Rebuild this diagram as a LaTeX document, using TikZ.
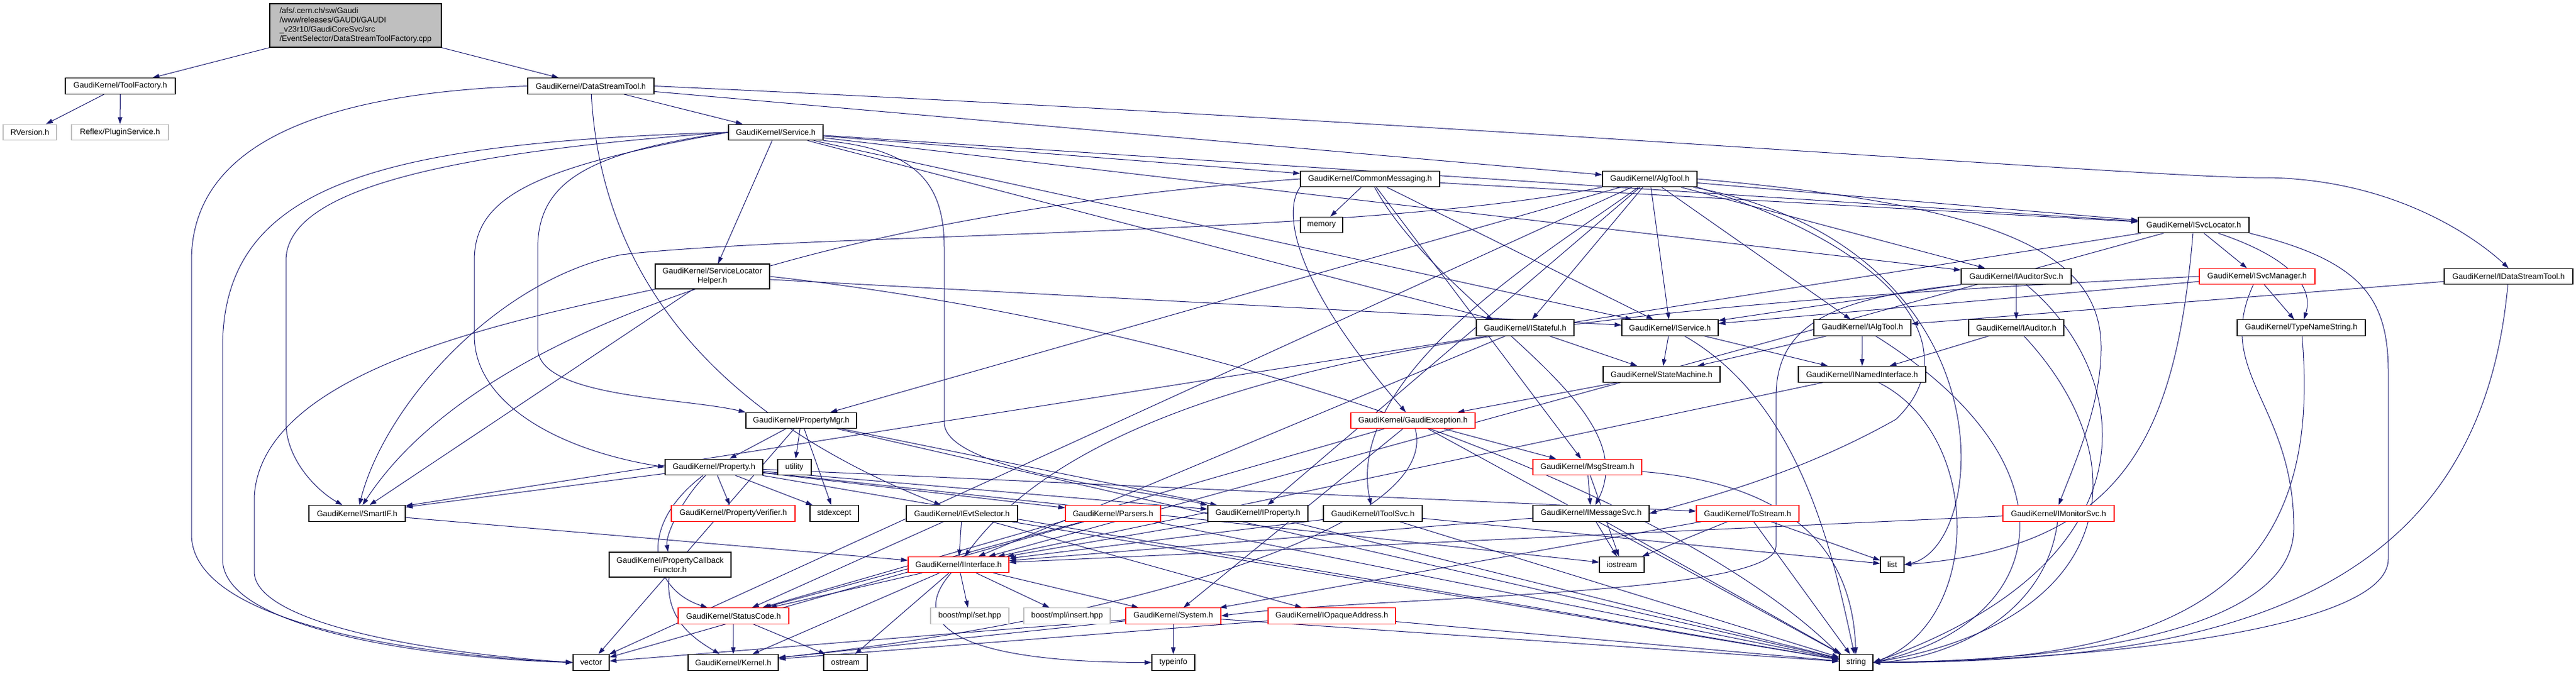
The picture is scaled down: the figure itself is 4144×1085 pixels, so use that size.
\documentclass[tikz,border=0pt]{standalone}
\usepackage{fontspec}
\setmainfont{Liberation Sans}
\usetikzlibrary{arrows.meta}
\definecolor{edgec}{HTML}{191970}
\definecolor{nodocc}{HTML}{BFBFBF}
\pgfdeclarelayer{bg}
\pgfsetlayers{bg,main}
\tikzset{
 nd/.style={draw=black, fill=white, line width=0.6pt, inner sep=0pt, minimum height=12.75pt, font=\fontsize{6.4}{7.5}\selectfont, align=center},
 wd/.style={minimum width=#1*0.5pt},
 trunc/.style={draw=red},
 nodoc/.style={draw=nodocc},
 e/.style={draw=edgec, line width=0.5pt, -{Triangle[length=5.5pt,width=3.6pt]}},
}
\begin{document}
\begin{tikzpicture}[x=0.5pt,y=-0.5pt]
\useasboundingbox (0,0) rectangle (4144,1085);
% nodes
\node[nd,wd=276,minimum height=35pt,fill=nodocc,align=left] (top) at (572,41) {/afs/.cern.ch/sw/Gaudi\\/www/releases/GAUDI/GAUDI\\\_v23r10/GaudiCoreSvc/src\\/EventSelector/DataStreamToolFactory.cpp};
\node[nd,wd=177] (tf) at (193.5,138.5) {GaudiKernel/ToolFactory.h};
\node[nd,nodoc,wd=86] (rv) at (48,213) {RVersion.h};
\node[nd,nodoc,wd=156] (ps) at (193,213) {Reflex/PluginService.h};
\node[nd,wd=203] (dst) at (950.5,138.5) {GaudiKernel/DataStreamTool.h};
\node[nd,wd=152] (svc) at (1248,213) {GaudiKernel/Service.h};
\node[nd,wd=184,minimum height=20pt] (slh) at (1146,445) {GaudiKernel/ServiceLocator\\Helper.h};
\node[nd,wd=224] (cm) at (2204,288) {GaudiKernel/CommonMessaging.h};
\node[nd,wd=68] (mem) at (2126,362) {memory};
\node[nd,wd=152] (at) at (2654,288) {GaudiKernel/AlgTool.h};
\node[nd,wd=178] (isl) at (3529,362) {GaudiKernel/ISvcLocator.h};
\node[nd,wd=177] (ias) at (3243.5,445) {GaudiKernel/IAuditorSvc.h};
\node[nd,trunc,wd=186] (ism) at (3631,445) {GaudiKernel/ISvcManager.h};
\node[nd,wd=207] (idst) at (4035.5,445) {GaudiKernel/IDataStreamTool.h};
\node[nd,wd=157] (ist) at (2453.5,527.5) {GaudiKernel/IStateful.h};
\node[nd,wd=155] (isv) at (2686.5,527.5) {GaudiKernel/IService.h};
\node[nd,wd=156] (iat) at (2996,527.5) {GaudiKernel/IAlgTool.h};
\node[nd,wd=153] (iau) at (3243.5,527.5) {GaudiKernel/IAuditor.h};
\node[nd,wd=206] (tns) at (3702,527.5) {GaudiKernel/TypeNameString.h};
\node[nd,wd=188] (sm) at (2673,602.5) {GaudiKernel/StateMachine.h};
\node[nd,wd=205] (ini) at (2995.5,602.5) {GaudiKernel/INamedInterface.h};
\node[nd,wd=178] (pm) at (1289,677) {GaudiKernel/PropertyMgr.h};
\node[nd,trunc,wd=200] (ge) at (2273,677) {GaudiKernel/GaudiException.h};
\node[nd,wd=157] (pr) at (1148.5,752) {GaudiKernel/Property.h};
\node[nd,wd=54] (ut) at (1278,752) {utility};
\node[nd,trunc,wd=175] (ms) at (2553.5,752) {GaudiKernel/MsgStream.h};
\node[nd,trunc,wd=199] (pv) at (1179.5,826.5) {GaudiKernel/PropertyVerifier.h};
\node[nd,wd=78] (se) at (1342,826.5) {stdexcept};
\node[nd,wd=179] (ies) at (1547.5,826.5) {GaudiKernel/IEvtSelector.h};
\node[nd,trunc,wd=153] (pa) at (1790.5,826.5) {GaudiKernel/Parsers.h};
\node[nd,wd=161] (ip) at (2023.5,826.5) {GaudiKernel/IProperty.h};
\node[nd,wd=159] (its) at (2208.5,826.5) {GaudiKernel/IToolSvc.h};
\node[nd,wd=187] (ims) at (2559.5,826.5) {GaudiKernel/IMessageSvc.h};
\node[nd,trunc,wd=165] (ts) at (2811.5,826.5) {GaudiKernel/ToStream.h};
\node[nd,trunc,wd=179] (imon) at (3311.5,826.5) {GaudiKernel/IMonitorSvc.h};
\node[nd,wd=155] (sif) at (574.5,826.5) {GaudiKernel/SmartIF.h};
\node[nd,wd=196,minimum height=20pt] (pcf) at (1078,909) {GaudiKernel/PropertyCallback\\Functor.h};
\node[nd,trunc,wd=162] (ii) at (1542,909) {GaudiKernel/IInterface.h};
\node[nd,wd=72] (ios) at (2609,909) {iostream};
\node[nd,wd=38] (lst) at (3044,909) {list};
\node[nd,trunc,wd=178] (sc) at (1180,991.5) {GaudiKernel/StatusCode.h};
\node[nd,nodoc,wd=126] (bset) at (1560,991.5) {boost/mpl/set.hpp};
\node[nd,nodoc,wd=139] (bins) at (1716.5,991.5) {boost/mpl/insert.hpp};
\node[nd,trunc,wd=153] (sys) at (1887.5,991.5) {GaudiKernel/System.h};
\node[nd,trunc,wd=205] (ioa) at (2142.5,991.5) {GaudiKernel/IOpaqueAddress.h};
\node[nd,wd=145] (ker) at (1179.5,1066.5) {GaudiKernel/Kernel.h};
\node[nd,wd=70] (ost) at (1360,1066.5) {ostream};
\node[nd,wd=69] (ti) at (1887.5,1066.5) {typeinfo};
\node[nd,wd=58] (vec) at (951,1066.5) {vector};
\node[nd,wd=54] (str) at (2986,1066.5) {string};
% edges
\begin{pgfonlayer}{bg}
\draw[e] (top) -- (tf);
\draw[e] (top) -- (dst);
\draw[e] (tf) -- (rv);
\draw[e] (tf) -- (ps);
% DataStreamTool
\draw[e] (dst.west) .. controls (520,150) and (308,230) .. (308,420) -- (308,860) .. controls (308,1010) and (700,1056) .. (vec.west);
\draw[e] (dst) .. controls (965,400) and (1100,650) .. (ies);
\draw[e] (dst) -- (svc);
\draw[e] (dst) -- (at);
\draw[e] (dst.east) .. controls (2400,200) and (3500,290) .. (3650,286) .. controls (3850,290) and (3980,380) .. (idst.north);
% Service
\draw[e] (svc) -- (isv);
\draw[e] (svc) -- (isl);
\draw[e] (svc) -- (slh);
\draw[e] (svc.south east) .. controls (1480,240) and (1519,300) .. (1519,400) -- (1519,680) .. controls (1519,760) and (1850,790) .. (ip.north west);
\draw[e] (svc.west) .. controls (950,245) and (865,290) .. (865,400) -- (865,560) .. controls (865,640) and (1100,640) .. (pm.north west);
\draw[e] (svc.west) .. controls (850,270) and (763,320) .. (763,420) -- (763,540) .. controls (763,650) and (900,725) .. (pr.west);
\draw[e] (svc) -- (ias);
\draw[e] (svc) -- (cm);
\draw[e] (svc.west) .. controls (650,250) and (460,320) .. (460,420) -- (460,680) .. controls (460,740) and (510,790) .. (sif);
\draw[e] (svc) -- (ist);
\draw[e] (svc.west) .. controls (600,230) and (358,300) .. (358,560) -- (358,900) .. controls (358,1015) and (700,1060) .. (vec.west);
% ServiceLocatorHelper
\draw[e] (slh) -- (isv);
\draw[e] (slh.east) .. controls (2000,530) and (2700,800) .. (str.north west);
\draw[e] (slh) -- (sif);
\draw[e] (slh.south west) .. controls (800,520) and (420,600) .. (409,800) -- (409,920) .. controls (409,1005) and (700,1052) .. (vec.west);
% CommonMessaging
\draw[e] (cm) -- (mem);
\draw[e] (cm.south west) .. controls (2070,330) and (2060,430) .. (ge);
\draw[e] (cm) -- (ms);
\draw[e] (cm) .. controls (2320,500) and (2650,650) .. (ims);
\draw[e] (cm) -- (isv);
\draw[e] (cm) -- (isl);
\draw[e] (cm.west) .. controls (1500,330) and (800,480) .. (sif);
% AlgTool
\draw[e] (at) -- (iat);
\draw[e] (at) -- (ist);
\draw[e] (at) -- (isv);
\draw[e] (at) -- (isl);
\draw[e] (at) -- (ias);
\draw[e] (at.east) .. controls (3200,330) and (3380,400) .. (3380,560) .. controls (3380,650) and (3340,740) .. (imon.north);
\draw[e] (at) .. controls (3240,400) and (3200,880) .. (lst.east);
\draw[e] (at) .. controls (2500,400) and (2160,600) .. (its);
\draw[e] (at.south east) .. controls (3050,400) and (3170,560) .. (3050,675) .. controls (2900,760) and (2750,800) .. (ims.east);
\draw[e] (at) -- (pm);
\draw[e] (at) -- (ip);
\draw[e] (at.south west) .. controls (2200,380) and (1300,375) .. (1000,410) .. controls (800,450) and (620,650) .. (sif);
\draw[e] (at) -- (vec);
% ISvcLocator
\draw[e] (isl) -- (ism);
\draw[e] (isl) .. controls (3700,420) and (3720,470) .. (tns);
\draw[e] (isl) .. controls (3500,700) and (3420,880) .. (lst.east);
\draw[e] (isl.south east) .. controls (3800,420) and (3842,480) .. (3842,600) -- (3842,900) .. controls (3842,1010) and (3400,1062) .. (str.east);
\draw[e] (isl) -- (sif);
\draw[e] (isl) -- (ii);
% IAuditorSvc
\draw[e] (ias) -- (isv);
\draw[e] (ias) -- (iau);
\draw[e] (ias) .. controls (3430,600) and (3480,900) .. (str.east);
\draw[e] (ias.south west) .. controls (2950,480) and (2857,520) .. (2857,640) -- (2857,880) .. controls (2857,960) and (2200,960) .. (sys.east);
% ISvcManager
\draw[e] (ism) -- (isv);
\draw[e] (ism) -- (tns);
\draw[e] (ism) .. controls (3560,600) and (3690,650) .. (3690,850) .. controls (3690,1000) and (3400,1062) .. (str.east);
\draw[e] (ism.west) .. controls (2600,490) and (1800,560) .. (ii);
% IDataStreamTool
\draw[e] (idst) -- (iat);
\draw[e] (idst) .. controls (3990,950) and (3600,1066) .. (str.east);
% IStateful, IService, IAlgTool, IAuditor, TypeNameString
\draw[e] (ist) -- (sm);
\draw[e] (ist) -- (ii);
\draw[e] (isv) -- (sm);
\draw[e] (isv) -- (ini);
\draw[e] (isv) .. controls (2900,650) and (2950,900) .. (str);
\draw[e] (iat) -- (ini);
\draw[e] (iat) -- (sm);
\draw[e] (iat) .. controls (3350,750) and (3300,1000) .. (str.east);
\draw[e] (iau) -- (ini);
\draw[e] (iau) .. controls (3450,750) and (3400,1000) .. (str.east);
\draw[e] (tns) .. controls (3740,950) and (3500,1066) .. (str.east);
% StateMachine, INamedInterface
\draw[e] (sm) -- (ge);
\draw[e] (ini) -- (ii);
\draw[e] (ini) .. controls (3190,700) and (3190,1000) .. (str.east);
% PropertyMgr
\draw[e] (pm) -- (pr);
\draw[e] (pm) -- (ut);
\draw[e] (pm) -- (se);
\draw[e] (pm) -- (ip);
\draw[e] (pm) -- (vec);
\draw[e] (pm) -- (str);
% GaudiException
\draw[e] (ge) -- (ms);
\draw[e] (ge) -- (sc);
\draw[e] (ge) .. controls (2320,850) and (1800,1000) .. (ker);
\draw[e] (ge) -- (sys);
\draw[e] (ge) -- (str);
% Property
\draw[e] (pr) .. controls (1100,800) and (1070,860) .. (pcf);
\draw[e] (pr) -- (pv);
\draw[e] (pr) -- (se);
\draw[e] (pr) -- (pa);
\draw[e] (pr) -- (ip);
\draw[e] (pr) -- (ts);
\draw[e] (pr) -- (sif);
\draw[e] (pr) .. controls (1020,850) and (1050,950) .. (sc);
\draw[e] (pr) -- (str);
\draw[e] (pr) -- (ios);
% MsgStream
\draw[e] (ms) -- (ims);
\draw[e] (ms) .. controls (2900,780) and (2980,900) .. (str);
\draw[e] (ms) -- (ios);
% IEvtSelector
\draw[e] (ies) -- (ii);
\draw[e] (ies) -- (sc);
\draw[e] (ies) -- (ioa);
\draw[e] (ies) -- (str);
% Parsers
\draw[e] (pa) -- (sc);
\draw[e] (pa) -- (vec);
\draw[e] (pa) -- (str);
% IProperty, IToolSvc, IMessageSvc, ToStream, IMonitorSvc
\draw[e] (ip) -- (ii);
\draw[e] (ip) -- (str);
\draw[e] (its) -- (ii);
\draw[e] (its) -- (str);
\draw[e] (its) -- (lst);
\draw[e] (ims) -- (ii);
\draw[e] (ims) -- (ios);
\draw[e] (ims) -- (str);
\draw[e] (ts) -- (ios);
\draw[e] (ts) -- (str);
\draw[e] (ts) -- (lst);
\draw[e] (ts) -- (sys);
\draw[e] (imon) -- (ii);
\draw[e] (imon) .. controls (3290,1000) and (3120,1062) .. (str.east);
% SmartIF, PropertyCallbackFunctor
\draw[e] (sif) -- (ii);
\draw[e] (pcf) .. controls (1070,1000) and (1120,1030) .. (ker);
% IInterface
\draw[e] (ii) -- (sc);
\draw[e] (ii) -- (ker);
\draw[e] (ii) -- (ost);
\draw[e] (ii) .. controls (1470,990) and (1500,1066) .. (ti.west);
\draw[e] (ii) -- (bset);
\draw[e] (ii) -- (bins);
\draw[e] (ii) -- (sys);
% StatusCode, System, IOpaqueAddress
\draw[e] (sc) -- (ker);
\draw[e] (sc) -- (ost);
\draw[e] (sys) -- (ti);
\draw[e] (sys) -- (ker);
\draw[e] (sys) -- (str);
\draw[e] (sys) -- (vec);
\draw[e] (ioa) -- (ker);
\draw[e] (ioa) -- (str);
\end{pgfonlayer}
\end{tikzpicture}
\end{document}
